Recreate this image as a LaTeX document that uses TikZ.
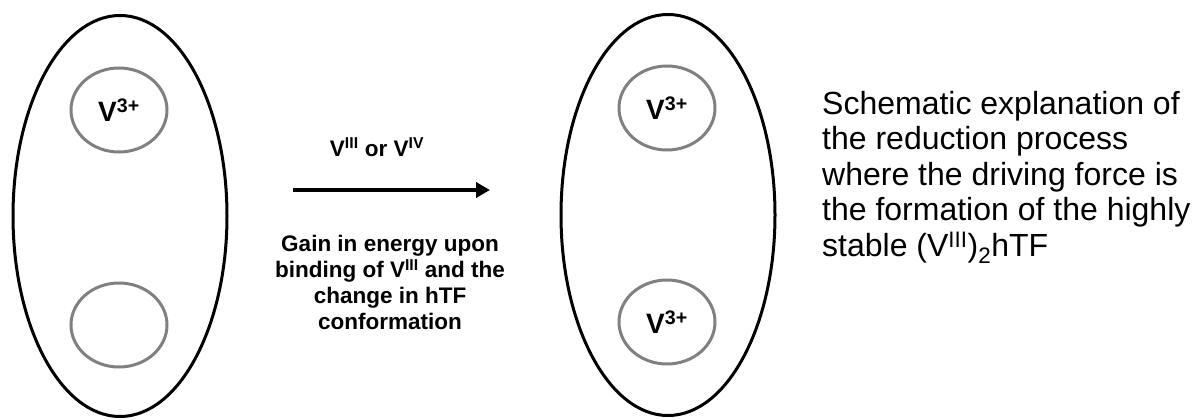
\documentclass[tikz,border=0pt]{standalone}
\usepackage{fontspec}
\setmainfont{Liberation Sans}
\usepackage{xcolor}
\usetikzlibrary{arrows.meta,shapes.geometric}
\definecolor{ink}{HTML}{000000}
\definecolor{rim}{HTML}{808080}
\newcommand{\ion}[2]{#1\textsuperscript{#2}}

\begin{document}
\begin{tikzpicture}[x=1pt,y=-1pt,
  cell/.style={draw=ink,line width=3pt,ellipse,inner sep=0pt,
               minimum width=214pt,minimum height=401pt},
  site/.style={draw=rim,line width=3pt,ellipse,inner sep=0pt,
               minimum width=96pt,minimum height=84pt,
               font=\bfseries\fontsize{28}{30}\selectfont},
  arr/.style={-{Triangle[length=14pt,width=15pt]},line width=4.5pt,ink},
  lbl/.style={font=\bfseries\fontsize{22.5}{26}\selectfont,align=center}
]
  \useasboundingbox (0,0) rectangle (1194,420);
  % protein before reduction
  \node[cell] (cellL)  at (120,216) {};
  \node[site] (siteLa) at (119,110) {\ion{V}{3+}};
  \node[site] (siteLb) at (119,325) {};
  % protein after reduction
  \node[cell] (cellR)  at (668,215) {};
  \node[site] (siteRa) at (667,108) {\ion{V}{3+}};
  \node[site] (siteRb) at (667,322) {\ion{V}{3+}};
  % reaction arrow
  \coordinate (arrS) at (293,190);
  \coordinate (arrE) at (490,190);
  \draw[arr] (arrS) -- (arrE);
  \node[lbl] (agent) at (377,147) {\ion{V}{III} or \ion{V}{IV}};
  \node[lbl,anchor=north] (gain) at (390,232)
    {Gain in energy upon\\ binding of \ion{V}{III} and the\\ change in hTF\\ conformation};
  % caption
  \node[anchor=north west,align=left,inner sep=0pt,
        font=\fontsize{32}{35.5}\selectfont] (note) at (822,91)
    {Schematic explanation of\\ the reduction process\\ where the driving force is\\
     the formation of the highly\\ stable (\ion{V}{III})\textsubscript{2}hTF};
\end{tikzpicture}
\end{document}
